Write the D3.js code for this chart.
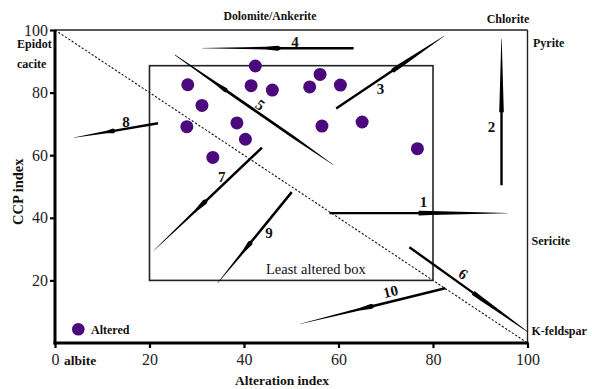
<!DOCTYPE html>
<html>
<head>
<meta charset="utf-8">
<script src="https://cdn.jsdelivr.net/npm/d3@7"></script>
<style>
  html, body { margin: 0; padding: 0; background: #fff; }
  svg { display: block; }
  text { font-family: "Liberation Serif", "Times New Roman", serif; }
</style>
</head>
<body>
<svg id="chart" width="592" height="389"></svg>
<script>
// ---------- data ----------
const xTicks = [0, 20, 40, 60, 80, 100];
const yTicks = [20, 40, 60, 80, 100];

const alteredAI  = [42.4, 28.1, 41.5, 46.0, 31.1, 38.5, 27.9, 40.3, 33.4, 56.1, 53.9, 60.4, 56.5, 65.0, 76.7];
const alteredCCP = [88.5, 82.5, 82.2, 80.8, 75.9, 70.3, 69.1, 65.1, 59.3, 85.8, 81.8, 82.4, 69.3, 70.6, 62.1];

const boxAI  = [20, 80];
const boxCCP = [20, 88.6];

const trendIds     = ["1", "2", "3", "4", "5", "6", "7", "8", "9", "10"];
const trendFrom    = [[58.1, 41.5], [94.5, 50.4], [59.5, 74.9], [31.1, 94.2], [25.4, 92.0],
                      [75.0, 30.6], [21.0, 29.7], [4.0, 65.6], [34.4, 19.1], [51.9, 6.1]];
const trendTo      = [[95.8, 41.5], [94.5, 97.1], [82.4, 98.1], [63.2, 94.2], [58.9, 56.9],
                      [100, 3.6], [43.8, 62.4], [21.8, 70.2], [50.1, 48.2], [82.6, 17.5]];
const trendLabelAt = [[78.0, 45.1], [92.4, 69.1], [68.9, 81.1], [50.8, 96.3], [43.4, 76.0],
                      [86.4, 22.0], [35.3, 53.1], [15.0, 70.7], [45.3, 35.2], [71.0, 16.4]];
const trendTilt    = [0, 0, 0, 0, 35, 35, 0, 0, 0, -14];
const trendShape   = ["head", "head", "head", "tail", "mid", "head", "tail", "tail", "tail", "tail"];
const trendBulge   = [0.5, 0.5, 0.52, 0.5, 0.32, 0.54, 0.47, 0.47, 0.44, 0.49];

// ---------- layout ----------
const svg = d3.select("#chart");
const x = d3.scaleLinear().domain([0, 100]).range([55, 527.5]);
const y = d3.scaleLinear().domain([0, 100]).range([343, 30]);
const dotColor = "#4a0a7e";

// frame (top & right thin)
svg.append("line").attr("x1", x(0)).attr("x2", x(100)).attr("y1", y(100)).attr("y2", y(100))
  .attr("stroke", "#222").attr("stroke-width", 1.4);
svg.append("line").attr("x1", x(100)).attr("x2", x(100)).attr("y1", y(100)).attr("y2", y(0))
  .attr("stroke", "#222").attr("stroke-width", 1.4);

// dashed diagonal
svg.append("line").attr("x1", x(0)).attr("y1", y(100)).attr("x2", x(100)).attr("y2", y(0))
  .attr("stroke", "#111").attr("stroke-width", 1.1).attr("stroke-dasharray", "2.2,1.8");

// least altered box
svg.append("rect")
  .attr("x", x(boxAI[0])).attr("y", y(boxCCP[1]))
  .attr("width", x(boxAI[1]) - x(boxAI[0])).attr("height", y(boxCCP[0]) - y(boxCCP[1]))
  .attr("fill", "none").attr("stroke", "#222").attr("stroke-width", 1.6);
svg.append("text").attr("x", 266).attr("y", 273.5)
  .attr("font-size", 14.5).attr("fill", "#111").text("Least altered box");

// axes
const gx = svg.append("g").attr("transform", `translate(0,${y(0)})`)
  .call(d3.axisBottom(x).tickValues(xTicks).tickSize(5).tickPadding(6).tickFormat(d3.format("d")));
const gy = svg.append("g").attr("transform", `translate(${x(0)},0)`)
  .call(d3.axisLeft(y).tickValues(yTicks).tickSize(5).tickPadding(2).tickFormat(d3.format("d")));
[gx, gy].forEach(g => {
  g.attr("font-family", null).attr("font-size", null);
  g.select(".domain").attr("stroke", "#000").attr("stroke-width", 3);
  g.selectAll(".tick line").attr("stroke", "#000").attr("stroke-width", 2.2);
  g.selectAll(".tick text").style("font-family", "'Liberation Serif', serif").style("font-size", "16px").attr("fill", "#222");
});
gx.select(".domain").attr("d", `M${x(0) - 1.5},0H${x(100) + 1}`);
gy.select(".domain").attr("d", `M0,${y(0) + 1.5}V${y(100)}`);

// tapered trend arrows
function profile(shape, b) {
  if (shape === "head") return [[0, 2.4], [b, 2.4], [b, 4.6], [b + 0.07, 4.0], [1, 0.4]];
  if (shape === "tail") return [[0, 0.3], [b - 0.08, 2.6], [b, 5.0], [b + 0.02, 2.5], [1, 2.5]];
  return [[0, 0.6], [b - 0.05, 2.7], [b, 4.6], [b + 0.01, 2.7], [0.75, 2.7], [1, 0.4]];
}
trendIds.forEach((id, i) => {
  const x1 = x(trendFrom[i][0]), y1 = y(trendFrom[i][1]);
  const x2 = x(trendTo[i][0]),   y2 = y(trendTo[i][1]);
  const dx = x2 - x1, dy = y2 - y1, len = Math.hypot(dx, dy);
  const nx = -dy / len, ny = dx / len;
  const prof = profile(trendShape[i], trendBulge[i]);
  const left = prof.map(([t, w]) => [x1 + dx * t + nx * w / 2, y1 + dy * t + ny * w / 2]);
  const right = prof.map(([t, w]) => [x1 + dx * t - nx * w / 2, y1 + dy * t - ny * w / 2]).reverse();
  svg.append("path").attr("d", d3.line()(left.concat(right)) + "Z").attr("fill", "#000");
  const lx = x(trendLabelAt[i][0]), ly = y(trendLabelAt[i][1]);
  svg.append("text").attr("x", lx).attr("y", ly)
    .attr("transform", `rotate(${trendTilt[i]},${lx},${ly})`)
    .attr("text-anchor", "middle").attr("dominant-baseline", "central")
    .attr("font-size", 15).attr("font-weight", "bold").attr("fill", "#111").text(id);
});

// altered points
svg.selectAll("circle.alt").data(alteredAI).enter().append("circle").attr("class", "alt")
  .attr("cx", d => x(d)).attr("cy", (d, i) => y(alteredCCP[i])).attr("r", 6.5).attr("fill", dotColor);

// legend
svg.append("circle").attr("cx", 78.3).attr("cy", 329.3).attr("r", 6.3).attr("fill", dotColor);
svg.append("text").attr("x", 91).attr("y", 333.6).attr("font-size", 12).attr("font-weight", "bold")
  .attr("fill", "#111").text("Altered");

// mineral labels
const bold = (t, px, py, size, anchor) => svg.append("text").attr("x", px).attr("y", py)
  .attr("font-size", size).attr("font-weight", "bold").attr("fill", "#111")
  .attr("text-anchor", anchor || "start").text(t);
bold("Dolomite/Ankerite", 270, 20, 11.7, "middle");
bold("Chlorite", 508, 22.5, 12, "middle");
bold("Pyrite", 533, 47, 12);
bold("Epidot", 17, 48, 12);
bold("cacite", 17, 67.5, 12);
bold("Sericite", 531.5, 244.5, 12);
bold("K-feldspar", 531.5, 334.5, 12);
bold("albite", 64, 364.5, 13.5);

// axis titles
bold("Alteration index", 282, 385, 13.5, "middle");
svg.append("text").attr("transform", "translate(22.5,191.7) rotate(-90)")
  .attr("text-anchor", "middle").attr("font-size", 14.5).attr("font-weight", "bold")
  .attr("fill", "#111").text("CCP index");
</script>
</body>
</html>
